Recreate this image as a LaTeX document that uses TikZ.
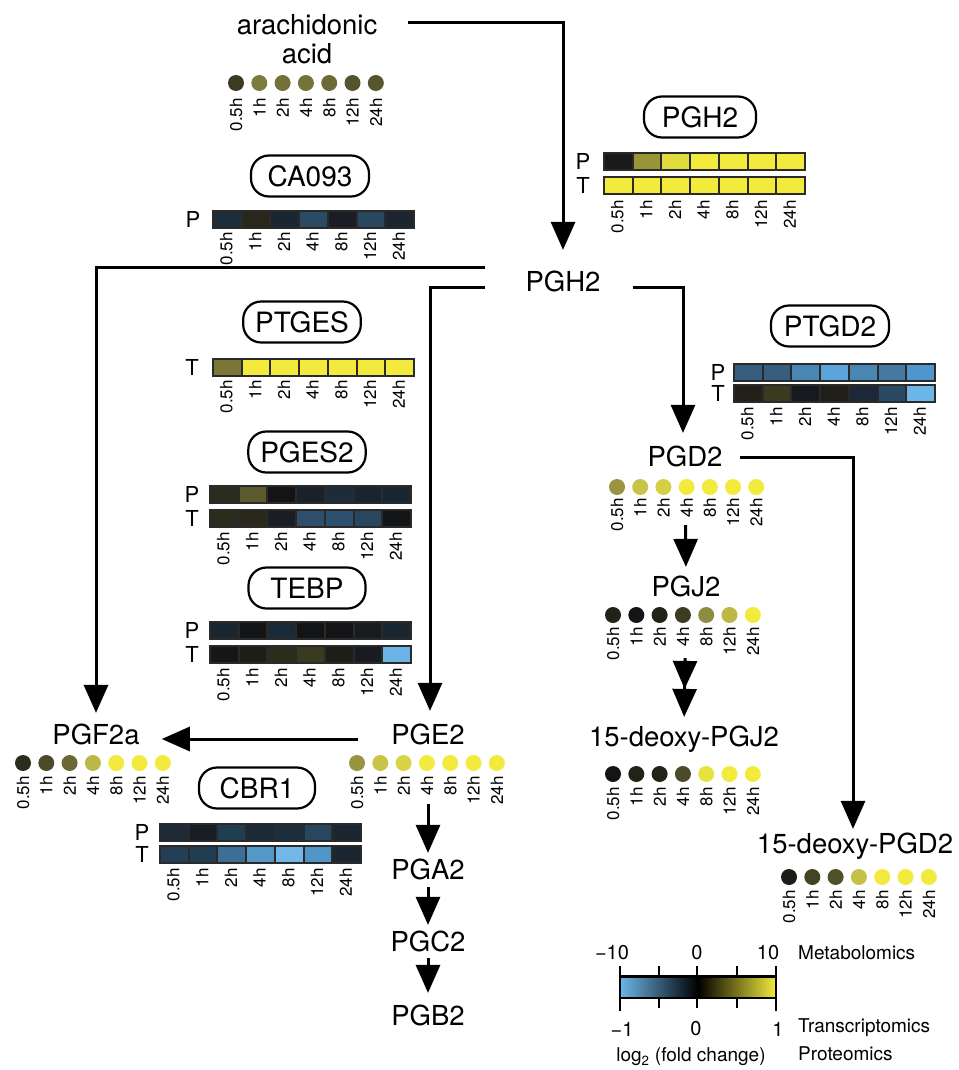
\documentclass[tikz,border=0pt]{standalone}
\usepackage{fontspec}
\setmainfont{TeX Gyre Heros}
\usetikzlibrary{arrows.meta}
\definecolor{yel}{HTML}{F2EA3C}
\definecolor{lblue}{HTML}{6CB6EA}
\definecolor{framecol}{HTML}{2A2A2A}
\newcommand\fsz[1]{\fontsize{#1}{#1}\selectfont}
\newcommand\heatrow[3]{%
  \fill[framecol] (#1,#2-9.5) rectangle ++(203,19);
  \foreach \c [count=\i] in {#3} {%
    \edef\tmpdef{\noexpand\definecolor{tmpc}{HTML}{\c}}\tmpdef
    \fill[tmpc] ({#1+2+(\i-1)*28.714},{#2-7.5}) rectangle ({#1+\i*28.714},{#2+7.5});
  }}
\newcommand\timelabs[3]{%
  \foreach \hh [count=\i] in {0.5h,1h,2h,4h,8h,12h,24h} {%
    \node[tlab] (tl-\i-#1-#3) at ({#1+(\i-1)*#2},#3) {\hh};
  }}
\newcommand\dotrow[4]{%
  \foreach \c [count=\i] in {#4} {%
    \edef\tmpdef{\noexpand\definecolor{tmpc}{HTML}{\c}}\tmpdef
    \fill[tmpc] ({#1+(\i-1)*#3},#2) circle[radius=8pt];
  }}
\begin{document}
\begin{tikzpicture}[x=1pt,y=-1pt,
  met/.style={inner sep=0pt,text height=19.8pt,text depth=0pt,font=\fsz{27.5}},
  enz/.style={draw,line width=2.2pt,rounded corners=18pt,minimum height=41pt,inner xsep=12pt,inner ysep=0pt,font=\fsz{28}},
  tlab/.style={rotate=90,anchor=east,inner sep=0pt,font=\fsz{17}},
  pt/.style={inner sep=0pt,font=\fsz{22}},
  arr/.style={line width=3pt,-{Triangle[length=28pt,width=24pt]}},
  darr/.style={line width=3pt,-{Triangle[length=28pt,width=24pt]Triangle[length=28pt,width=24pt]}},
  leg/.style={inner sep=0pt,font=\fsz{20}},
  tick/.style={line width=2.4pt}]
\useasboundingbox (0,0) rectangle (958,1070);

% ---------- metabolites ----------
\node[inner sep=0pt,align=center,font=\fsz{27.5}] (arach) at (307,39) {arachidonic\\[1pt]acid};
\coordinate (aaout) at (408,23);
\node[met] (pgh2) at (563,282) {PGH2};
\node[met] (pgf2a) at (96,735) {PGF2a};
\node[met] (pge2) at (428,735) {PGE2};
\node[met] (pga2) at (428,870) {PGA2};
\node[met] (pgc2) at (428,942) {PGC2};
\node[met] (pgb2) at (428,1016) {PGB2};
\node[met] (pgd2) at (685,457) {PGD2};
\node[met] (pgj2) at (686,587) {PGJ2};
\node[met] (dpgj2) at (684,737) {15-deoxy-PGJ2};
\node[met] (dpgd2) at (855,844) {15-deoxy-PGD2};

% ---------- dots ----------
\dotrow{236}{83}{23.3}{3B3A22,7E7B3E,747138,767339,6D6A36,55542C,57552D}
\timelabs{236}{23.3}{98}
\dotrow{23}{763}{23.3}{2C2C1E,4C4A28,6A6836,BCB848,F2EA3C,F2EA3C,F2EA3C}
\timelabs{23}{23.3}{776}
\dotrow{357}{763}{23.3}{989440,C8C448,D8D446,F2EA3C,F2EA3C,F2EA3C,F2EA3C}
\timelabs{357}{23.3}{776}
\dotrow{617}{487}{23.2}{989440,C8C448,D4D046,F2EA3C,F2EA3C,F2EA3C,F2EA3C}
\timelabs{617}{23.2}{498}
\dotrow{613}{615}{23.3}{222218,141416,222218,3C3C22,8E8C40,BCB848,F2EA3C}
\timelabs{613}{23.3}{627}
\dotrow{613}{774}{23.3}{141414,222218,222218,4C4A28,E8E23E,F2EA3C,F2EA3C}
\timelabs{613}{23.3}{787}
\dotrow{789}{877}{23.3}{1E1C18,444424,50502A,C4C048,F2EA3C,F2EA3C,F2EA3C}
\timelabs{789}{23.3}{890}

% ---------- enzymes ----------
\node[enz,minimum width=112pt] (e-pgh2) at (700,117) {PGH2};
\node[pt] (pgh2-p) at (583,161.5) {P};
\node[pt] (pgh2-t) at (583,185.5) {T};
\heatrow{603}{161.5}{1A1A18,9A9638,E0DC3E,F2EA3C,F2EA3C,F2EA3C,F2EA3C}
\heatrow{603}{185.5}{F2EA3C,F2EA3C,F2EA3C,F2EA3C,F2EA3C,F2EA3C,F2EA3C}
\timelabs{617.4}{28.714}{200}

\node[enz,minimum width=118pt] (e-ca093) at (310,176) {CA093};
\node[pt] (ca-p) at (193,219) {P};
\heatrow{212}{219}{1E2D3A,29271A,1C2631,2B4A63,1A1E24,2A4760,1C2631}
\timelabs{226.4}{28.714}{232}

\node[enz,minimum width=106pt] (e-ptges) at (302,322) {PTGES};
\node[pt] (ptges-t) at (192,367) {T};
\heatrow{212}{367}{7A7638,F2EA3C,F2EA3C,F2EA3C,F2EA3C,F2EA3C,F2EA3C}
\timelabs{226.4}{28.714}{380}

\node[enz,minimum width=117pt] (e-pges2) at (307,452) {PGES2};
\node[pt] (pges2-p) at (192,494) {P};
\node[pt] (pges2-t) at (192,518) {T};
\heatrow{209}{494}{2C2C1E,5A5A2C,141416,1A2128,1E2C3A,1A2430,1A2630}
\heatrow{209}{518}{2C2C1E,28281C,1A1E22,2E4E6A,2E5070,294660,121416}
\timelabs{223.4}{28.714}{532}

\node[enz,minimum width=117pt] (e-tebp) at (307,588) {TEBP};
\node[pt] (tebp-p) at (192,630) {P};
\node[pt] (tebp-t) at (192,654) {T};
\heatrow{209}{630}{1A2630,121416,1A2A36,121416,141416,181C20,1A2630}
\heatrow{209}{654}{161616,1E1E18,2C2C1C,3A3A22,1E1E18,181C20,6CB4E8}
\timelabs{223.4}{28.714}{668}

\node[enz,minimum width=116pt] (e-cbr1) at (257,788) {CBR1};
\node[pt] (cbr1-p) at (142,832) {P};
\node[pt] (cbr1-t) at (142,854) {T};
\heatrow{159}{832}{1E2A36,181E24,213D52,1C2A36,1C2E3C,284660,1C2630}
\heatrow{159}{854}{243E56,223C50,3E6E94,5498C8,72B6EA,5094C8,1C2630}
\timelabs{173.4}{28.714}{868}

\node[enz,minimum width=118pt] (e-ptgd2) at (830,326) {PTGD2};
\node[pt] (ptgd2-p) at (718,372.5) {P};
\node[pt] (ptgd2-t) at (718,393) {T};
\heatrow{733}{372.5}{375E7E,375E7E,4A86B4,5CA4DA,4A86B4,4678A2,5096CC}
\heatrow{733}{393}{222018,3A3A20,161A1E,201E18,1C2838,2A4A64,6CB6EA}
\timelabs{747.4}{28.714}{407}

% ---------- connectors ----------
\draw[arr] (aaout) -| ([yshift=22pt]pgh2.north);
\draw[arr] ([shift={(-40pt,15pt)}]pgh2.west) -| ([yshift=12pt]pgf2a.north);
\draw[arr] ([shift={(-40pt,-5pt)}]pgh2.west) -| ([xshift=2pt,yshift=14pt]pge2.north);
\draw[arr] ([shift={(32pt,-5pt)}]pgh2.east) -| ([xshift=-2pt,yshift=14pt]pgd2.north);
\draw[arr] ([shift={(-33pt,-4pt)}]pge2.west) -- ([shift={(22pt,-4pt)}]pgf2a.east);
\draw[arr] ([xshift=17pt]pgd2.east) -| ([xshift=-2pt,yshift=5pt]dpgd2.north);
\draw[arr,shorten <=59pt,shorten >=7pt] (pge2.south) -- (pga2.north);
\draw[arr,shorten <=7pt,shorten >=7pt] (pga2.south) -- (pgc2.north);
\draw[arr,shorten <=6pt,shorten >=13pt] (pgc2.south) -- (pgb2.north);
\draw[arr,shorten <=58pt,shorten >=10pt] (pgd2.south) -- (pgj2.north);
\draw[darr,shorten <=61pt,shorten >=10pt] (pgj2.south) -- (dpgj2.north);

% ---------- legend ----------
\shade[left color=lblue,right color=black] (620,977) rectangle (698,998);
\shade[left color=black,right color=yel] (698,977) rectangle (776,998);
\draw[line width=2.2pt] (620,977) rectangle (776,998);
\draw[line width=3pt] (620,976) -- (776,976);
\foreach \x in {620,659,697,737,776} {
  \draw[tick] (\x,966) -- (\x,977);
  \draw[tick] (\x,998) -- (\x,1008);
}
\draw[tick] (620,998) -- (620,1011);
\draw[tick] (776,998) -- (776,1011);
\node[leg] (l-m10) at (612,953) {\textminus10};
\node[leg] (l-0a) at (697,953) {0};
\node[leg] (l-10) at (768,953) {10};
\node[leg] (l-m1) at (622,1029) {\textminus1};
\node[leg] (l-0b) at (696,1029) {0};
\node[leg] (l-1) at (778,1029) {1};
\node[leg,anchor=west,font=\fsz{19}] (l-met) at (798,953) {Metabolomics};
\node[leg,anchor=west,font=\fsz{19}] (l-tr) at (798,1028) {Transcriptomics};
\node[leg,anchor=west,font=\fsz{19}] (l-pr) at (798,1054) {Proteomics};
\node[leg,font=\fsz{19}] (l-log) at (691,1057) {log\textsubscript{2} (fold change)};
\end{tikzpicture}
\end{document}
